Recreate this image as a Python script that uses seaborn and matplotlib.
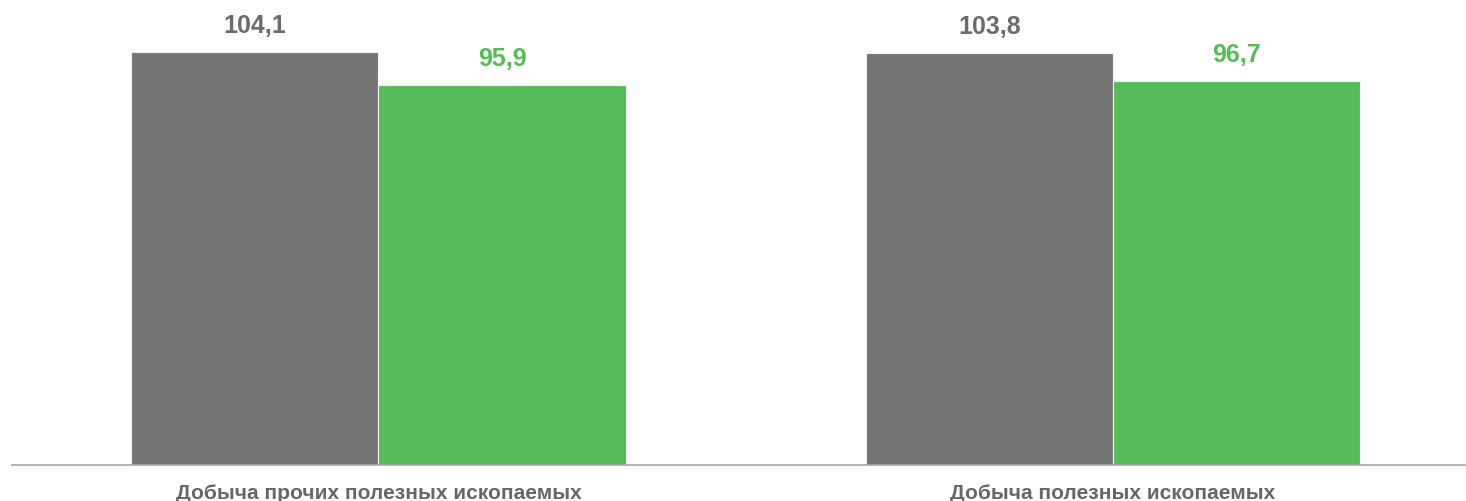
import pandas as pd
import seaborn as sns
import matplotlib.pyplot as plt

# Data
categories = ['Добыча прочих полезных ископаемых', 'Добыча полезных ископаемых']
series = ['Ряд 1', 'Ряд 2']
values_1 = [104.1, 103.8]
values_2 = [95.9, 96.7]
colors = ['#757575', '#57BB5A']
label_colors = ['#6B6B6B', '#57BB5A']

df = pd.DataFrame({
    'category': categories * 2,
    'series': [series[0]] * 2 + [series[1]] * 2,
    'value': values_1 + values_2,
})

sns.set_style('white')
plt.rcParams['font.family'] = ['Liberation Sans', 'DejaVu Sans']

fig = plt.figure(figsize=(14.66, 5.01), dpi=100)
ax = fig.add_axes([12 / 1466, 36 / 501, 1 - 12 / 1466, 1 - 36 / 501])

sns.barplot(data=df, x='category', y='value', hue='series', palette=colors,
            saturation=1, width=0.673, edgecolor='#F2F2F2', linewidth=0.8,
            legend=False, ax=ax)

# value labels
for container, col in zip(ax.containers, label_colors):
    labels = [f'{v:.1f}'.replace('.', ',') for v in container.datavalues]
    ax.bar_label(container, labels=labels, padding=10, color=col,
                 fontsize=18, fontweight='bold')

ax.set_xlim(-0.499, 1.481)
ax.set_ylim(0, 117.2)
ax.set_xlabel('')
ax.set_ylabel('')
ax.set_yticks([])
ax.tick_params(axis='x', length=0, pad=14, labelsize=15, labelcolor='#666666')
for lbl in ax.get_xticklabels():
    lbl.set_fontweight('bold')
for side in ['top', 'right', 'left']:
    ax.spines[side].set_visible(False)
ax.spines['bottom'].set_color('#A6A6A6')
ax.spines['bottom'].set_linewidth(1.2)

fig.savefig('out.png', dpi=100)
